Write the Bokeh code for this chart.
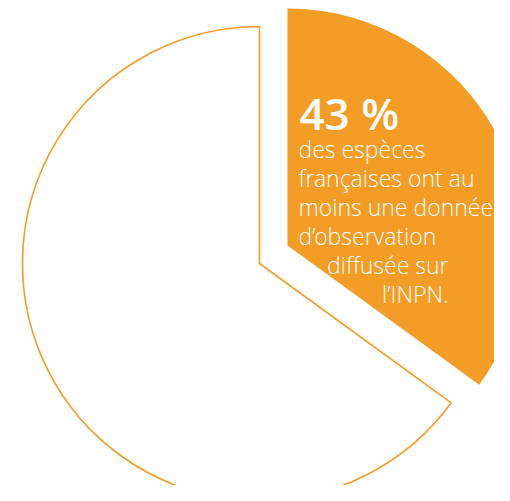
import math
from bokeh.plotting import figure
from bokeh.models import Range1d, ColumnDataSource
from bokeh.core.properties import value
from bokeh.embed import file_html
from bokeh.resources import INLINE

# --- data -------------------------------------------------------------
slice_names = ["avec donnée diffusée", "autres espèces"]
slice_shares = [35, 65]          # shares as drawn in the picture (%)
slice_fill = ["#F39C26", "#FFFFFF"]
headline = "43 %"
body_lines = ["des espèces", "françaises ont au", "moins une donnée",
              "d\u2019observation", "diffusée sur", "l\u2019INPN."]
body_align = ["left", "left", "left", "left", "right", "right"]

ORANGE = "#F39C26"
W, H = 494, 485
EXPLODE = [(28, 18), (0, 0)]     # px shift of each slice (style)
# screen-like coordinates: data unit = 1 px, y upwards (page y = 501 - y)
p = figure(width=W, height=H, output_backend="svg", toolbar_location=None,
           x_range=Range1d(0, W), y_range=Range1d(501 - H, 501),
           min_border=0, outline_line_color=None)
p.axis.visible = False
p.grid.visible = False
p.background_fill_color = "white"
p.border_fill_color = "white"

cx, cy, R = 259, 501 - 263, 237
top = 90.0
total = sum(slice_shares)
# orange slice goes clockwise from top
o_span = slice_shares[0] / total * 360.0
starts = [top - o_span, top]
ends = [top, top - o_span + 360.0]
xs = [cx + e[0] for e in EXPLODE]
ys = [cy + e[1] for e in EXPLODE]
src = ColumnDataSource(dict(x=xs, y=ys, start=[math.radians(a) for a in starts],
                            end=[math.radians(a) for a in ends], fill=slice_fill,
                            name=slice_names,
                            line=[None, ORANGE]))
p.wedge(x="x", y="y", radius=R, start_angle="start", end_angle="end",
        fill_color="fill", line_color="line", line_width=1.6, source=src)

# headline
p.text(x=[299], y=[501 - 112], text=[headline], text_color="white",
       text_font=value("Open Sans SemiBold"), text_font_size="44px",
       text_baseline="alphabetic", text_align="left")

# body text
bx = [298 if a == "left" else 448 for a in body_align]
by = [501 - (148 + 29 * i) for i in range(len(body_lines))]
p.text(x=bx, y=by, text=body_lines, text_align=body_align, text_color="white",
       text_font=value("Open Sans Light"), text_font_size="23px",
       text_baseline="alphabetic")

open("out.html", "w").write(file_html(p, INLINE))
